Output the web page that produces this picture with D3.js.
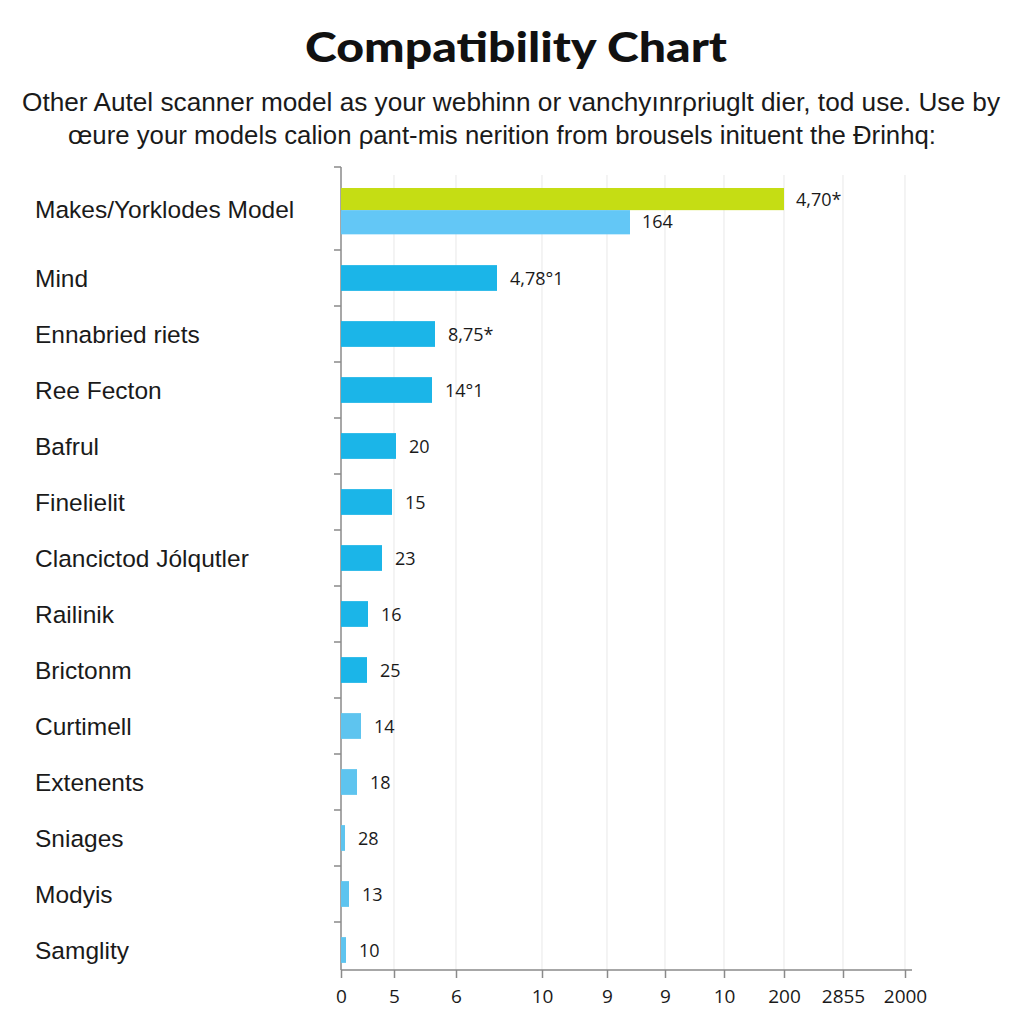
<!DOCTYPE html>
<html>
<head>
<meta charset="utf-8">
<script src="https://cdn.jsdelivr.net/npm/d3@7"></script>
<style>
  html, body { margin: 0; padding: 0; background: #ffffff; }
  svg { display: block; }
</style>
</head>
<body>
<svg id="chart" width="1024" height="1024"></svg>
<script>
// ---- data ----
const categories = ["Makes/Yorklodes Model", "Mind", "Ennabried riets", "Ree Fecton", "Bafrul",
  "Finelielit", "Clancictod Jólqutler", "Railinik", "Brictonm", "Curtimell", "Extenents",
  "Sniages", "Modyis", "Samglity"];
// bar lengths in axis units (axis runs 0..564 units)
const primaryValues = [289, 156, 94, 91, 55, 51, 41, 27, 26, 20, 16, 4, 8, 5];
const primaryLabels = ["164", "4,78°1", "8,75*", "14°1", "20", "15", "23", "16", "25", "14", "18", "28", "13", "10"];
const highlightValue = 443;       // extra green bar for first category
const highlightLabel = "4,70*";
const tickPositions = [0, 53, 115, 201, 266, 324, 383, 443, 502, 564];
const tickLabels = ["0", "5", "6", "10", "9", "9", "10", "200", "2855", "2000"];
const titleText = "Compatibility Chart";
const subtitleLines = [
  "Other Autel scanner model as your webhinn or vanchy\u0131nr\u03c1riuglt dier, tod use. Use by",
  "\u0153ure your models calion \u03c1ant-mis nerition from brousels inituent the \u0110rinhq:"
];

// ---- layout ----
const svg = d3.select("#chart");
const x = d3.scaleLinear().domain([0, 564]).range([341, 905]);
const y = d3.scaleBand().domain(categories).range([194, 978]).paddingInner(0.54).paddingOuter(0.27);
const axisY = 970;

// title
svg.append("text")
  .attr("x", 516).attr("y", 62)
  .attr("text-anchor", "middle")
  .attr("font-family", "Lato, 'Open Sans', sans-serif")
  .attr("font-weight", 900)
  .attr("font-size", 41)
  .attr("textLength", 422).attr("lengthAdjust", "spacingAndGlyphs")
  .attr("fill", "#111")
  .text(titleText);

// subtitle
const subX = [[22, 1000], [68, 936]];
subtitleLines.forEach((t, i) => {
  svg.append("text")
    .attr("x", subX[i][0]).attr("y", 111 + i * 33)
    .attr("font-family", "'Liberation Sans', Arial, sans-serif")
    .attr("font-size", 26.5)
    .attr("textLength", subX[i][1] - subX[i][0]).attr("lengthAdjust", "spacingAndGlyphs")
    .attr("fill", "#1a1a1a")
    .text(t);
});

// gridlines
svg.append("g").selectAll("line")
  .data(tickPositions.slice(1))
  .join("line")
  .attr("x1", d => x(d)).attr("x2", d => x(d))
  .attr("y1", 175).attr("y2", axisY)
  .attr("stroke", "#ececec").attr("stroke-width", 1.2);

// bottom axis
const xAxis = d3.axisBottom(x)
  .tickValues(tickPositions)
  .tickFormat((d, i) => tickLabels[i])
  .tickSize(8).tickSizeOuter(0).tickPadding(12);
const gx = svg.append("g").attr("transform", `translate(0,${axisY})`).call(xAxis);
gx.select(".domain").attr("stroke", "#8a8a8a").attr("stroke-width", 1.5)
  .attr("d", `M${x(0)},0H${x(564) + 7}`);
gx.selectAll(".tick line").attr("stroke", "#8a8a8a").attr("stroke-width", 1.5);
gx.selectAll(".tick text")
  .attr("font-family", "'Open Sans', 'Noto Sans', sans-serif")
  .attr("font-size", 19).attr("fill", "#1a1a1a");

// left axis line & boundary ticks
svg.append("line")
  .attr("x1", x(0)).attr("x2", x(0)).attr("y1", 167).attr("y2", axisY)
  .attr("stroke", "#8a8a8a").attr("stroke-width", 1.5);
const boundaries = [167].concat(categories.slice(1).map(c => y(c) - y.step() * y.paddingInner() / 2));
svg.append("g").selectAll("line")
  .data(boundaries)
  .join("line")
  .attr("x1", x(0) - 7).attr("x2", x(0))
  .attr("y1", d => d).attr("y2", d => d)
  .attr("stroke", "#8a8a8a").attr("stroke-width", 1.5);

// bar colours
const colorFor = i => i === 0 ? "#63c7f6" : (i >= 9 ? "#5ec4ef" : "#1bb5e8");

// highlight (green) bar for first category
const c0 = categories[0];
svg.append("rect")
  .attr("x", x(0)).attr("y", y(c0) - y.bandwidth() * 0.82)
  .attr("width", x(highlightValue) - x(0)).attr("height", y.bandwidth() * 0.86)
  .attr("fill", "#c5dd14");
svg.append("text")
  .attr("x", x(highlightValue) + 12).attr("y", y(c0) - y.bandwidth() * 0.38)
  .attr("dy", "0.35em")
  .attr("font-family", "'Open Sans', 'Noto Sans', sans-serif")
  .attr("font-size", 18).attr("fill", "#1a1a1a")
  .text(highlightLabel);

// primary bars
const bars = categories.map((c, i) => ({ c, i, v: primaryValues[i], label: primaryLabels[i] }));
svg.append("g").selectAll("rect")
  .data(bars)
  .join("rect")
  .attr("x", x(0))
  .attr("y", d => d.i === 0 ? y(d.c) + 1 : y(d.c))
  .attr("width", d => x(d.v) - x(0))
  .attr("height", d => d.i === 0 ? y.bandwidth() * 0.94 : y.bandwidth())
  .attr("fill", d => colorFor(d.i));

// value labels
svg.append("g").selectAll("text")
  .data(bars)
  .join("text")
  .attr("x", d => x(d.v) + (d.i === 0 ? 12 : 13))
  .attr("y", d => d.i === 0 ? y(d.c) + y.bandwidth() * 0.5 : y(d.c) + y.bandwidth() / 2 + 1)
  .attr("dy", "0.35em")
  .attr("font-family", "'Open Sans', 'Noto Sans', sans-serif")
  .attr("font-size", 18).attr("fill", "#1a1a1a")
  .text(d => d.label);

// category labels
svg.append("g").selectAll("text")
  .data(categories)
  .join("text")
  .attr("x", 35)
  .attr("y", (c, i) => i === 0 ? y(c) : y(c) + y.bandwidth() / 2)
  .attr("dy", "0.35em")
  .attr("font-family", "'Liberation Sans', Arial, sans-serif")
  .attr("font-size", 24.5).attr("fill", "#1a1a1a")
  .text(d => d);
</script>
</body>
</html>
